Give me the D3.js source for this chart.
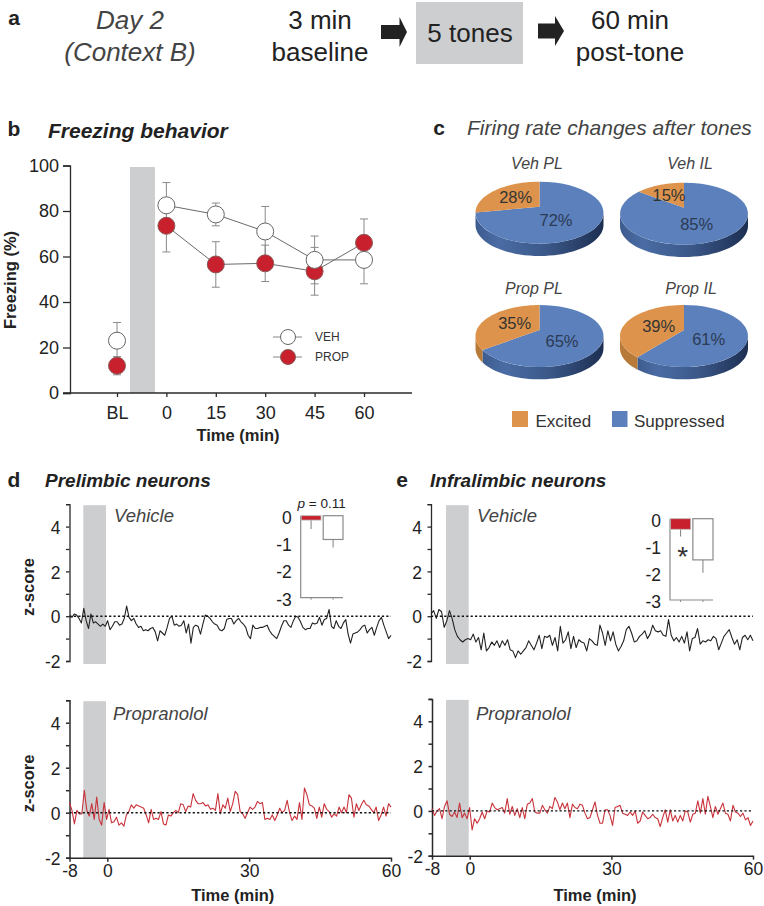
<!DOCTYPE html>
<html><head><meta charset="utf-8">
<script src="https://cdn.jsdelivr.net/npm/d3@7"></script>
<style>
html,body{margin:0;padding:0;background:#fff}
svg{display:block}
text{font-family:"Liberation Sans",Arial,sans-serif;fill:#222}
</style></head><body><div id="chart"></div>
<script>
// ---------- data ----------
const freezeCats = ["BL","0","15","30","45","60"];
const vehFreeze = [23,82.5,78.5,71,58.5,58.5];
const vehErr = [8,10,5,11,10.5,10.5];
const propFreeze = [12,73.5,56.5,57,53.5,66];
const propErr = [4,11.5,10,8,10.5,10.5];
const freezeTicks = [0,20,40,60,80,100];
const propOnTop = ["BL","0"];

const pieNames = ["Veh PL","Veh IL","Prop PL","Prop IL"];
const excitedPct = [28,15,35,39];
const suppressedPct = [72,85,65,61];

const plVeh = [0,-.05,.1,.05,-.1,-.3,.35,-.2,-.55,.1,-.3,-.25,-.35,-.45,-.35,-.45,-.2,-.6,-.45,-.25,-.25,-.4,-.35,-.1,.45,-.05,-.2,-.1,-.35,-.5,-.45,-.65,-.6,-.65,-.55,-.5,-.7,-1.1,-.65,-.75,-.85,-.5,-.1,0,-.4,-.35,-.45,-.4,-.2,-.75,-.35,-1.2,-.5,-.4,-.45,
-.8,-.35,.05,0,-.1,-.25,-.35,-.4,-.6,-.65,-.55,-.15,-.1,-.1,-.35,-.2,-.1,-.25,-.35,-.5,-.85,-1,-.4,-.55,-.55,-.5,-.5,-.45,-.4,-.65,-.8,-.9,-1,-.75,-.45,-.2,-.2,-.4,-.5,-.2,0,-.05,-.25,-.5,-.6,-.55,-.55,-.3,-.35,-.3,-.05,-.4,-.15,-.1,.3,-.45,-.55,-.2,-.45,-.55,-.3,-.15,-.8,-1.2,-.8,-.75,-.7,-.6,-.45,-.4,-.75,-.6,-.5,-.85,-.5,-.2,-.05,-.4,-.7,-1,-.85];
const plProp = [.45,.1,-.5,.1,-.05,-.05,1,.1,-.15,.4,-.3,.7,-.3,-.55,.45,-.3,.15,-.45,-.4,-.2,-.55,-.45,-.6,-.1,.05,.35,.2,.35,.3,.25,.2,-.1,-.45,.15,-.3,-.25,-.3,.05,-.5,-.55,-.1,-.15,0,.1,0,.4,.35,.05,.3,.25,.85,.55,.4,.4,.45,.3,.35,.15,
.2,.1,.85,-.05,.35,.2,.65,.05,.4,.95,.8,.05,-.05,-.25,0,.25,.15,.25,.5,.4,.45,-.3,-.25,-.3,-.1,-.35,-.1,.2,0,.1,.55,0,-.35,-.15,-.3,.45,-.3,1.1,.8,.35,.3,.2,-.25,.25,-.2,.4,.15,.05,-.2,-.05,-.15,.25,0,.25,0,.8,.65,-.2,.4,.1,.35,.55,.35,.3,.15,0,.25,-.35,-.1,.25,-.15,.4,.25];
const ilVeh = [.1,.25,-.1,.3,.2,-.5,-.2,.25,-.1,-.6,-.9,-1.05,-1.15,-1.05,-1,-1.05,-.8,-1.15,-.95,-1.5,-.75,-1.55,-1.4,-1.15,-1.3,-1.1,-1.4,-1.1,-1.3,-1.05,-1.5,-1.55,-1.85,-1.55,-1.7,-1.55,-1.4,-1.1,-1.3,-1.5,-1.2,-.85,-1.45,-.9,-.95,-.85,-1.3,-.95,-1.55,-.45,-1.2,-1.05,-.7,-1.45,-.9,-1.4,-1.05,-1.15,-1.2,-1.55,-1,
-1.1,-1.25,-1.3,-.4,-.75,-1.3,-.65,-1.1,-.7,-1.25,-1.55,-1.35,-1.1,-.6,-.45,-.75,-1.15,-1.1,-.9,-.8,-.65,-1,-.8,-.4,-.65,-.7,-.65,-.85,-.9,-.15,-.85,-1.1,-.95,-1.15,-.9,-1.2,-.7,-1.55,-1,-.95,-.55,-1.25,-1.1,-1.15,-1.05,-1.1,-.9,-1,-1.5,-1.2,-.9,-.75,-.6,-.95,-1.25,-1.05,-1.5,-.95,-.85,-1.05,-.85,-1.1];
const ilProp = [.1,-.2,0,.1,-.35,.2,.45,-.15,-.25,-.05,-.3,.35,-.3,-.1,-.35,.15,-.85,-.35,-.55,-.35,-.05,-.35,0,-.05,.35,.15,.05,.1,.15,-.1,.55,-.15,.2,-.2,.1,-.3,.15,-.35,.3,.35,.55,-.05,-.1,-.1,.25,.05,-.1,.2,.1,.6,.4,.05,.35,.1,.35,-.3,.3,.15,.1,.3,.25,-.1,-.35,
-.3,.05,.4,-.2,-.55,-.55,.05,.05,-.2,-.65,.15,.2,.25,-.1,-.15,-.2,-.05,-.2,0,-.55,-.45,-.05,-.2,-.35,-.3,-.15,-.3,-.35,-.7,-.3,.05,-.5,.05,-.45,-.2,-.5,-.2,-.45,0,-.05,-.5,-.15,-.1,.45,-.1,.55,-.15,.65,.2,-.3,.2,-.15,.1,.35,-.1,-.15,-.45,.25,-.05,-.1,-.25,-.1,-.4,-.3,-.65,-.45];
const traceTicks = [-8,0,30,60];
const zLabels = [-2,0,2,4];
const zMinor = [-2,-1,0,1,2,3,4,5];
const insetLabels = [0,-1,-2,-3];
const plInset = [-.16,-.87];
const plInsetLow = [-.49,-1.16];
const ilInset = [-.39,-1.52];
const ilInsetLow = [-.66,-1.99];

// ---------- helpers ----------
const svg = d3.select("#chart").append("svg").attr("width",764).attr("height",906);
const RED="#c8202c", GREY="#cdced0";
function T(x,y,s,size,o={}){
  const t=svg.append("text").attr("x",x).attr("y",y).attr("dy",".35em")
   .attr("font-size",size).attr("text-anchor",o.a||"middle").text(s);
  if(o.i)t.attr("font-style","italic");
  if(o.b)t.attr("font-weight","bold");
  if(o.c)t.style("fill",o.c);
  if(o.rot)t.attr("transform",`rotate(-90 ${x} ${y})`);
  return t;
}
function styleAxis(g,col="#2a2a2a",w=1.3){
  g.selectAll("path").attr("stroke",col).attr("stroke-width",w);
  g.selectAll("line").attr("stroke",col).attr("stroke-width",w);
}

// ---------- panel a ----------
T(14,18,"a",21,{b:1});
T(130,20,"Day 2",26,{i:1,c:"#444"});
T(130,52,"(Context B)",26,{i:1,c:"#444"});
T(320,20,"3 min",26); T(320,52,"baseline",26);
svg.append("rect").attr("x",416).attr("y",2).attr("width",107).attr("height",62).attr("fill",GREY);
T(470,33,"5 tones",26);
T(630,20,"60 min",26); T(630,52,"post-tone",26);
[[381,399.5,407,32,25,39],[538,555,564,31,23.5,38.5]].forEach(a=>{
  const [x0,x1,x2,yc,y0,y1]=a;
  svg.append("path").attr("fill","#222")
   .attr("d",`M${x0},${y0}H${x1}V${yc-15}L${x2},${yc}L${x1},${yc+15}V${y1}H${x0}Z`);
});

// ---------- panel b ----------
T(14,129,"b",21,{b:1});
T(48,131,"Freezing behavior",21,{b:1,i:1,a:"start"});
const bx=d3.scalePoint().domain(freezeCats).range([117,364]);
const by=d3.scaleLinear().domain([0,100]).range([393,165.5]);
svg.append("rect").attr("x",130).attr("y",167).attr("width",25).attr("height",226).attr("fill",GREY);
const gY=svg.append("g").attr("transform","translate(70,0)")
  .call(d3.axisLeft(by).tickValues(freezeTicks).tickSize(7).tickPadding(4));
gY.selectAll("text").attr("font-size",18).style("fill","#222");
styleAxis(gY);
svg.append("line").attr("x1",63).attr("x2",412).attr("y1",by(0)).attr("y2",by(0)).attr("stroke","#2a2a2a").attr("stroke-width",1.3);
const gX=svg.append("g").attr("transform",`translate(0,${by(0)})`)
  .call(d3.axisBottom(bx).tickSize(4).tickPadding(9));
gX.select("path").remove();
gX.selectAll("text").attr("font-size",18).style("fill","#222");
styleAxis(gX);
T(10,280,"Freezing (%)",16.5,{b:1,rot:1});
T(238,435,"Time (min)",16.5,{b:1});
const lineGen=d3.line().x((d,i)=>bx(freezeCats[i+1])).y(d=>by(d));
function errBars(vals,errs){
  freezeCats.forEach((c,i)=>{
    const x=bx(c),y0=by(vals[i]-errs[i]),y1=by(vals[i]+errs[i]);
    [[x,y0,x,y1],[x-4,y0,x+4,y0],[x-4,y1,x+4,y1]].forEach(l=>
      svg.append("line").attr("x1",l[0]).attr("y1",l[1]).attr("x2",l[2]).attr("y2",l[3])
      .attr("stroke","#8a8a8a").attr("stroke-width",1));
  });
}
errBars(vehFreeze,vehErr); errBars(propFreeze,propErr);
[vehFreeze,propFreeze].forEach(v=>svg.append("path").attr("d",lineGen(v.slice(1))).attr("fill","none").attr("stroke","#6a6a6a").attr("stroke-width",1));
function dots(vals,fill,cats){
  cats.forEach(c=>{const i=freezeCats.indexOf(c);
    svg.append("circle").attr("cx",bx(c)).attr("cy",by(vals[i])).attr("r",8.5)
    .attr("fill",fill).attr("stroke",fill==="#fff"?"#666":"#8a5a5a").attr("stroke-width",1);});
}
dots(propFreeze,RED,freezeCats.filter(c=>!propOnTop.includes(c)));
dots(vehFreeze,"#fff",freezeCats);
dots(propFreeze,RED,propOnTop);
[["VEH",337,"#fff"],["PROP",357,RED]].forEach(l=>{
  svg.append("line").attr("x1",273).attr("x2",302).attr("y1",l[1]).attr("y2",l[1]).attr("stroke","#888");
  svg.append("circle").attr("cx",288).attr("cy",l[1]).attr("r",7.5).attr("fill",l[2]).attr("stroke",l[2]==="#fff"?"#666":"#8a5a5a");
  T(315,l[1],l[0],12,{a:"start",c:"#333"});
});

// ---------- panel c ----------
T(439,128,"c",21,{b:1});
T(467,128,"Firing rate changes after tones",21,{i:1,a:"start",c:"#444"});
const defs=svg.append("defs");
const grad=defs.append("linearGradient").attr("id","side");
[[0,"#3d5b8e"],[.18,"#4a6ca4"],[.55,"#3b5889"],[1,"#1d2f52"]].forEach(s=>grad.append("stop").attr("offset",s[0]).attr("stop-color",s[1]));
const pieCenters=[[539.5,206.7],[684,207.7],[539.5,330],[684,330]];
const pieLabelPos=[[[515.7,197],[556,220.7]],[[669,195],[696.7,224]],[[514.7,323],[562,341]],[[658.7,326.7],[708.7,339]]];
const titlePos=[[537,163],[690,163],[534,288],[691,288]];
const rx=64, ry=31, off=6, depth=12.3, ORANGE="#dd934c", BLUE="#5b80bb";
const pieGen=d3.pie().sort(null);
pieNames.forEach((name,k)=>{
  const [cx,ay]=pieCenters[k], ecy=ay+off, e=off/ry;
  const arcs=pieGen([suppressedPct[k],excitedPct[k]]);
  // ray from the apex to the rim, in the tilted view
  const rim=th=>{
    const s=Math.sin(th),c=Math.cos(th);
    const t=-e*c+Math.sqrt(e*e*c*c-(e*e-1));
    return [s*t, -e-c*t];
  };
  const paramOf=th=>{const p=rim(th);return Math.atan2(p[0],-p[1]);};
  const norm=a=>a<0?a+2*Math.PI:a;
  const a0=0,a1=norm(paramOf(arcs[0].endAngle));
  const ell=(a,dy=0)=>[cx+rx*Math.sin(a),ecy-ry*Math.cos(a)+dy];
  const line=d3.line();
  const span=(s,f)=>d3.range(0,41).map(i=>s+(f-s)*i/40);
  const sideA=Math.PI/2, sideB=Math.PI*1.5;
  const wall=(s,f,fill)=>{
    if(f<=s)return;
    const top=span(s,f).map(a=>ell(a)), bot=span(f,s).map(a=>ell(a,depth));
    svg.append("path").attr("d",line(top.concat(bot))+"Z").attr("fill",fill);
  };
  wall(sideA,Math.min(sideB,a1),"url(#side)");
  wall(a1,sideB,"#b87a38");
  const apex=[cx,ay];
  svg.append("path").attr("d",line([apex].concat(span(a0,a1).map(a=>ell(a))))+"Z").attr("fill",BLUE);
  svg.append("path").attr("d",line([apex].concat(span(a1,2*Math.PI).map(a=>ell(a))))+"Z").attr("fill",ORANGE);
  T(titlePos[k][0],titlePos[k][1],name,16,{i:1,c:"#444"});
  T(pieLabelPos[k][0][0],pieLabelPos[k][0][1],excitedPct[k]+"%",16.5,{c:"#333"});
  T(pieLabelPos[k][1][0],pieLabelPos[k][1][1],suppressedPct[k]+"%",16.5,{c:"#2c3a55"});
});
svg.append("rect").attr("x",512).attr("y",411).attr("width",16).attr("height",16).attr("fill",ORANGE);
T(535.5,421,"Excited",17,{a:"start",c:"#333"});
svg.append("rect").attr("x",612).attr("y",411).attr("width",15.5).attr("height",16).attr("fill",BLUE);
T(634,421,"Suppressed",17,{a:"start",c:"#333"});

// ---------- panels d, e ----------
T(14,480,"d",21,{b:1});
T(45,480,"Prelimbic neurons",19,{b:1,i:1,a:"start"});
T(402,480,"e",21,{b:1});
T(430,480,"Infralimbic neurons",19,{b:1,i:1,a:"start"});

function tracePanel(o){
  const x=d3.scaleLinear().domain([-8,60]).range([o.x0,o.x1]);
  const y=d3.scaleLinear().domain([-2,5]).range([o.yBottom,o.yBottom-7*o.unit]);
  svg.append("rect").attr("x",o.band[0]).attr("width",o.band[1]-o.band[0])
    .attr("y",y(5)+1).attr("height",y(-2)-y(5)+(o.xAxis?-1:2)).attr("fill",GREY);
  const ax=svg.append("g").attr("transform",`translate(${o.x0},0)`)
    .call(d3.axisLeft(y).tickValues(zMinor).tickSize(3.5).tickFormat(""));
  styleAxis(ax,"#2a2a2a",o.xAxis?1.5:1.3);
  zLabels.forEach(v=>T(o.x0-9,y(v)+1,String(v),17.5,{a:"end"}));
  const n=o.data.length;
  const t=d3.scaleLinear().domain([0,n-1]).range([-8,60]);
  svg.append("path").attr("d",d3.line().x((d,i)=>x(t(i))).y(d=>y(d))(o.data))
    .attr("fill","none").attr("stroke",o.color).attr("stroke-width",1.1).attr("stroke-linejoin","round");
  svg.append("line").attr("x1",x(-8)).attr("x2",x(60)).attr("y1",y(0)).attr("y2",y(0))
    .attr("stroke","#111").attr("stroke-width",1.4).attr("stroke-dasharray","2.2 2.2");
  T(o.labelX,o.labelY,o.label,18.5,{i:1,a:"start",c:"#444"});
  if(o.yTitle) T(o.x0-41,y(1.3),"z-score",16.5,{b:1,rot:1});
  if(o.xAxis){
    const g=svg.append("g").attr("transform",`translate(0,${y(-2)})`)
      .call(d3.axisBottom(x).tickValues(traceTicks).tickSize(4).tickPadding(3).tickFormat(String).tickSizeOuter(0));
    g.selectAll("text").attr("font-size",17.5).style("fill","#222");
    styleAxis(g,"#2a2a2a",1.5);
    T((o.x0+o.x1)/2+2.5,895,"Time (min)",16.5,{b:1});
  }
}
tracePanel({x0:69.5,x1:391,yBottom:661,unit:22.4,band:[83.3,106],data:plVeh,color:"#222",label:"Vehicle",labelX:114,labelY:516,yTitle:true});
tracePanel({x0:69.5,x1:391,yBottom:857.7,unit:22.5,band:[83.3,106],data:plProp,color:"#c8323a",label:"Propranolol",labelX:113,labelY:714,xAxis:true,yTitle:true});
tracePanel({x0:431,x1:753,yBottom:661,unit:22.4,band:[446,468.7],data:ilVeh,color:"#222",label:"Vehicle",labelX:477,labelY:516});
tracePanel({x0:432,x1:753,yBottom:855.7,unit:22.4,band:[446,468.7],data:ilProp,color:"#c8323a",label:"Propranolol",labelX:476,labelY:714,xAxis:true});

function inset(o){
  const y=d3.scaleLinear().domain([0,-3]).range([o.top,o.bot]);
  const x=d3.scaleBand().domain([0,1]).range([o.x0+.5,o.x1]).paddingInner(.1);
  svg.append("path").attr("d",`M${o.x0},${y(0)}V${y(-3)}H${o.x1}`).attr("fill","none").attr("stroke","#8a8a8a").attr("stroke-width",1.2);
  o.vals.forEach((v,i)=>{
    const xc=x(i)+x.bandwidth()/2;
    svg.append("line").attr("x1",xc).attr("x2",xc).attr("y1",y(v)).attr("y2",y(o.low[i])).attr("stroke","#8a8a8a").attr("stroke-width",1.1);
    svg.append("rect").attr("x",x(i)).attr("width",x.bandwidth()).attr("y",y(0)).attr("height",y(v)-y(0))
      .attr("fill",i?"#fff":RED).attr("stroke",i?"#8a8a8a":"#b9b9b9").attr("stroke-width",i?1.2:.8);
    svg.append("line").attr("x1",xc).attr("x2",xc).attr("y1",y(-3)).attr("y2",y(-3)+2).attr("stroke","#8a8a8a");
  });
  insetLabels.forEach(v=>T(o.x0-9,y(v)+1.8,String(v),17.5,{a:"end"}));
}
inset({x0:300.7,x1:343,top:515.7,bot:597.7,vals:plInset,low:plInsetLow});
inset({x0:670,x1:713,top:518.7,bot:600,vals:ilInset,low:ilInsetLow});
const p=svg.append("text").attr("x",321.7).attr("y",503).attr("dy",".35em").attr("text-anchor","middle").attr("font-size",13.5);
p.append("tspan").attr("font-style","italic").text("p");
p.append("tspan").text(" = 0.11");
T(682.7,556,"*",28,{c:"#333"});
</script></body></html>
